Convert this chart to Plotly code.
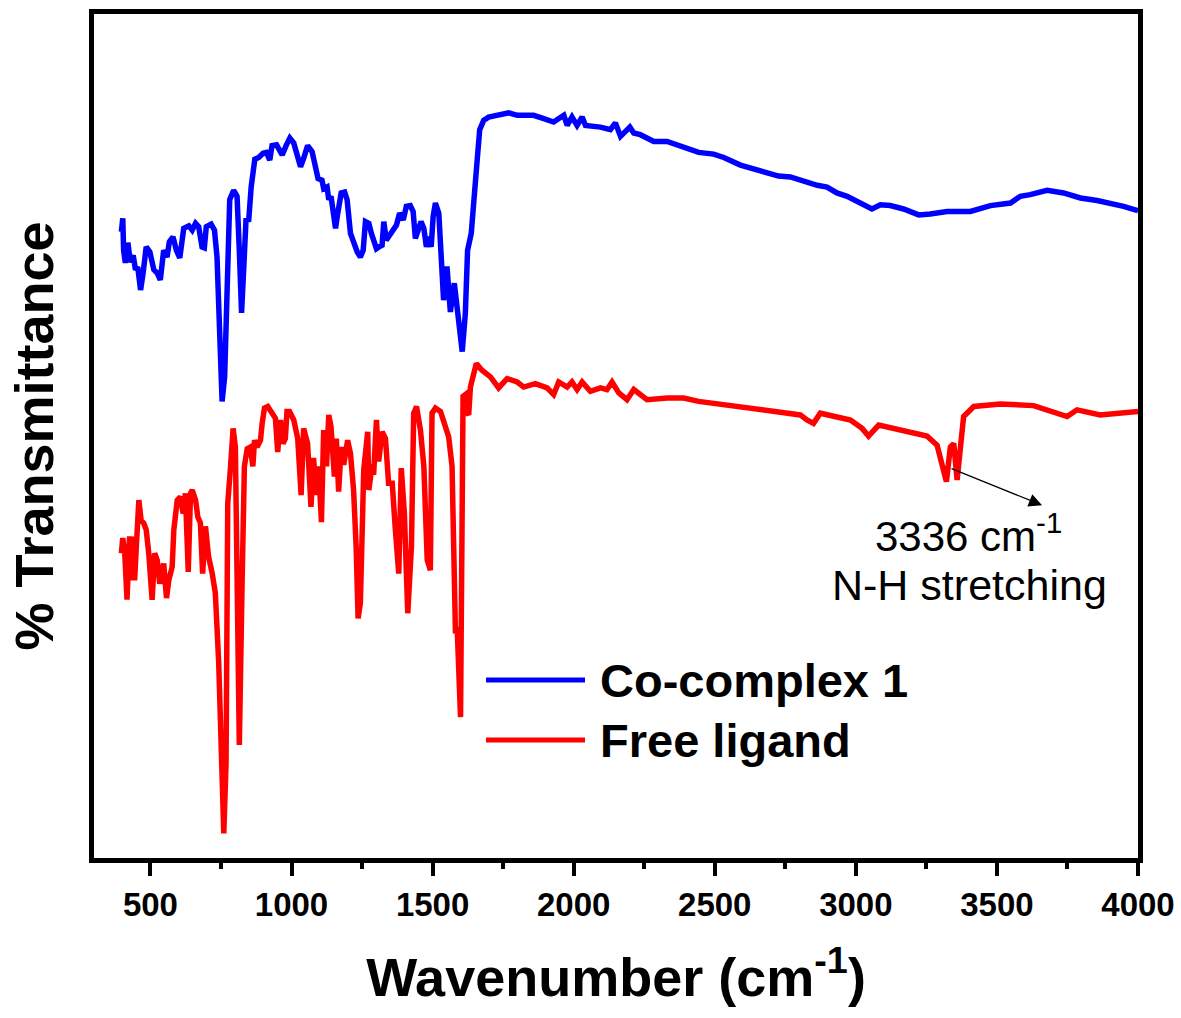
import plotly.graph_objects as go

# ---------------- data (wavenumber in cm^-1, transmittance in arbitrary %T units) -------------
co_wn = [397, 402, 405, 411, 420, 429, 439, 447, 455, 465, 474, 485, 498, 512, 524, 535, 547,
         559, 567, 580, 592, 604, 618, 636, 648, 660, 671, 683, 691, 698, 715, 727, 736, 746,
         754, 763, 772, 781, 795, 807, 815, 823, 831, 839, 848, 857, 870, 884, 899, 911, 923,
         931, 947, 958, 967, 982, 994, 1008, 1020, 1032, 1043, 1057, 1073, 1085, 1094, 1108,
         1114, 1126, 1132, 1140, 1146, 1156, 1164, 1176, 1188, 1197, 1209, 1220, 1233, 1244,
         1254, 1262, 1274, 1283, 1291, 1301, 1310, 1321, 1327, 1336, 1344, 1357, 1372, 1383,
         1396, 1407, 1421, 1431, 1439, 1449, 1459, 1469, 1478, 1486, 1495, 1502, 1510, 1522,
         1530, 1539, 1551, 1563, 1577, 1590, 1605, 1616, 1624, 1637, 1648, 1658, 1667, 1681,
         1699, 1729, 1770, 1800, 1858, 1894, 1929, 1965, 1977, 1994, 2012, 2030, 2042, 2095,
         2130, 2148, 2166, 2199, 2213, 2236, 2284, 2331, 2390, 2443, 2496, 2532, 2591, 2650,
         2697, 2726, 2768, 2815, 2863, 2898, 2933, 2969, 3004, 3040, 3057, 3087, 3122, 3169,
         3223, 3264, 3323, 3406, 3477, 3548, 3583, 3618, 3678, 3736, 3796, 3855, 3902, 3949,
         3990, 4000]
co_t = [74.2, 75.8, 72.0, 70.5, 72.9, 70.6, 71.4, 69.7, 70.0, 67.3, 69.3, 72.4, 71.8, 69.7,
        69.3, 68.5, 72.0, 71.2, 73.0, 73.6, 72.0, 71.1, 74.6, 74.9, 74.4, 75.2, 74.8, 72.4,
        72.3, 74.8, 75.1, 74.4, 71.2, 62.2, 54.1, 57.0, 66.1, 78.0, 79.1, 78.4, 72.0, 64.6,
        70.1, 75.8, 75.4, 79.5, 82.8, 83.0, 83.5, 83.6, 82.7, 84.4, 84.5, 83.9, 83.3, 84.5,
        85.3, 84.7, 83.3, 81.9, 82.9, 84.4, 83.7, 81.7, 80.5, 80.3, 79.3, 79.5, 78.0, 78.4,
        77.2, 74.6, 76.4, 78.8, 78.9, 78.0, 74.0, 72.8, 71.8, 71.2, 72.0, 75.4, 75.2, 74.0,
        73.2, 72.2, 72.4, 72.6, 75.4, 73.2, 73.6, 74.4, 75.0, 76.4, 75.6, 77.2, 77.3, 76.6,
        73.4, 74.4, 75.4, 74.6, 72.4, 73.6, 72.4, 76.0, 77.6, 76.4, 70.9, 66.1, 70.1, 64.7,
        68.1, 64.5, 60.0, 64.5, 72.0, 74.0, 79.9, 82.7, 86.3, 87.4, 87.8, 88.0, 88.3, 88.0,
        88.0, 87.6, 87.2, 88.0, 86.8, 87.8, 86.8, 87.8, 86.8, 86.6, 86.3, 87.1, 85.5, 86.6,
        85.9, 85.7, 84.9, 84.9, 84.3, 83.6, 83.4, 83.0, 82.1, 81.5, 81.1, 80.8, 80.7, 80.2,
        79.7, 79.5, 78.8, 78.4, 77.8, 77.3, 76.9, 77.4, 77.3, 76.9, 76.2, 76.3, 76.6, 76.6,
        77.3, 77.6, 78.4, 78.6, 79.1, 78.8, 78.2, 77.9, 77.6, 77.2, 76.8, 76.7]

lig_wn = [397, 402, 409, 417, 426, 434, 441, 444, 450, 459, 467, 476, 485, 494, 506, 515, 524,
          533, 547, 557, 565, 577, 583, 595, 606, 616, 624, 634, 642, 648, 660, 668, 677, 685,
          695, 706, 719, 730, 742, 752, 760, 768, 774, 784, 793, 801, 807, 815, 825, 833, 843,
          854, 863, 869, 878, 890, 896, 904, 916, 931, 943, 951, 961, 970, 978, 984, 993, 1008,
          1022, 1034, 1043, 1057, 1069, 1078, 1088, 1096, 1106, 1114, 1124, 1132, 1140, 1152,
          1159, 1167, 1176, 1185, 1199, 1209, 1220, 1229, 1236, 1244, 1256, 1270, 1274, 1286,
          1291, 1301, 1309, 1321, 1333, 1344, 1357, 1368, 1380, 1389, 1400, 1412, 1425, 1433,
          1443, 1457, 1469, 1481, 1492, 1498, 1510, 1528, 1539, 1557, 1569, 1581, 1587, 1599,
          1608, 1616, 1624, 1628, 1634, 1655, 1675, 1705, 1734, 1764, 1800, 1823, 1864, 1906,
          1929, 1947, 1977, 1994, 2012, 2030, 2059, 2095, 2118, 2136, 2160, 2189, 2213, 2260,
          2331, 2390, 2443, 2508, 2591, 2685, 2768, 2803, 2827, 2850, 2874, 2981, 3022, 3045,
          3081, 3158, 3252, 3288, 3305, 3321, 3335, 3347, 3359, 3370, 3382, 3418, 3512, 3630,
          3749, 3784, 3866, 4000]
lig_t = [36.1, 37.9, 36.1, 30.6, 38.1, 32.9, 38.1, 32.9, 36.9, 42.4, 40.0, 39.7, 38.9, 36.1,
         30.6, 36.1, 35.3, 32.5, 34.9, 30.8, 32.9, 34.5, 38.9, 42.4, 42.8, 40.8, 43.2, 33.9,
         43.2, 43.6, 42.4, 40.4, 39.7, 33.7, 39.3, 35.7, 33.7, 31.4, 23.1, 11.2, 2.9, 11.2,
         42.0, 46.4, 50.9, 48.7, 32.9, 13.4, 32.9, 46.4, 48.5, 48.7, 46.4, 49.5, 48.7, 49.5,
         51.5, 53.3, 53.5, 52.7, 52.1, 48.1, 51.9, 49.1, 49.7, 52.9, 52.9, 51.9, 49.7, 43.0,
         50.9, 49.1, 41.6, 47.4, 43.0, 46.4, 39.8, 50.7, 46.4, 52.5, 51.1, 45.2, 49.7, 43.4,
         48.7, 46.6, 49.5, 47.9, 43.6, 36.9, 28.4, 30.2, 46.0, 50.5, 43.6, 46.6, 45.4, 51.9,
         47.0, 50.5, 49.7, 44.4, 44.4, 38.9, 33.7, 46.2, 40.8, 29.0, 36.9, 52.7, 53.5, 50.7,
         46.4, 35.3, 34.1, 52.7, 53.3, 52.9, 51.9, 49.9, 46.4, 26.6, 27.4, 16.7, 54.7, 54.9,
         52.7, 52.5, 55.8, 58.6, 57.8, 57.0, 55.7, 56.8, 56.4, 55.8, 56.2, 55.7, 54.9, 56.4,
         55.8, 56.4, 55.5, 56.4, 55.3, 55.7, 55.5, 56.4, 55.1, 54.3, 55.5, 54.3, 54.5, 54.5,
         54.1, 53.8, 53.5, 53.0, 52.7, 52.5, 51.9, 51.5, 52.7, 51.9, 50.9, 50.0, 51.3, 50.7,
         50.0, 48.9, 46.8, 44.6, 48.7, 49.1, 44.8, 48.7, 52.3, 53.5, 53.8, 53.6, 52.3, 53.1,
         52.5, 52.9]

series_names = ["Co-complex 1", "Free ligand"]
series_colors = ["#0000ff", "#ff0000"]

FONT = "Liberation Sans, Arial, Helvetica, sans-serif"

fig = go.Figure()
fig.add_trace(go.Scatter(x=co_wn, y=co_t, mode="lines", name=series_names[0],
                         line=dict(color=series_colors[0], width=5.5), showlegend=False))
fig.add_trace(go.Scatter(x=lig_wn, y=lig_t, mode="lines", name=series_names[1],
                         line=dict(color=series_colors[1], width=5.5), showlegend=False))

# manual legend (long line samples as in the reference)
leg_y = [0.2109, 0.1398]
for name, col, yy in zip(series_names, series_colors, leg_y):
    fig.add_shape(type="line", xref="paper", yref="paper", x0=0.3755, x1=0.4703,
                  y0=yy, y1=yy, line=dict(color=col, width=5))
    fig.add_annotation(xref="paper", yref="paper", x=0.4828, y=yy, text=name,
                       showarrow=False, xanchor="left", yanchor="middle",
                       font=dict(family=FONT, size=47, color="black", weight="bold"))

# peak annotation arrow and label
fig.add_annotation(x=3660, y=41.8, ax=3334, ay=46.2, xref="x", yref="y", axref="x", ayref="y",
                   text="", showarrow=True, arrowhead=2, arrowsize=2.2, arrowwidth=1.2,
                   arrowcolor="black")
fig.add_annotation(x=3399, y=38.5, xref="x", yref="y", text="3336 cm<sup>-1</sup>",
                   showarrow=False, xanchor="center", yanchor="middle",
                   font=dict(family=FONT, size=42, color="black"))
fig.add_annotation(x=3403, y=32.3, xref="x", yref="y", text="N-H stretching",
                   showarrow=False, xanchor="center", yanchor="middle",
                   font=dict(family=FONT, size=43, color="black"))

fig.update_layout(
    width=1181, height=1018,
    margin=dict(l=94, r=43, t=14, b=160, autoexpand=False),
    paper_bgcolor="white", plot_bgcolor="white",
    xaxis=dict(range=[300, 4000], showline=True, linewidth=5, linecolor="black", mirror=True,
               automargin=False,
               ticks="outside", ticklen=13, tickwidth=4, tickcolor="black",
               tick0=0, dtick=500, showgrid=False, zeroline=False,
               tickfont=dict(family=FONT, size=33, color="black", weight="bold"),
               minor=dict(ticks="outside", ticklen=6, tickwidth=4, tickcolor="black",
                          tick0=250, dtick=500, showgrid=False),
               title=dict(text="Wavenumber (cm<sup>-1</sup>)", standoff=38,
                          font=dict(family=FONT, size=54, color="black", weight="bold"))),
    yaxis=dict(range=[0, 100], showline=True, linewidth=5, linecolor="black", mirror=True,
               automargin=False,
               ticks="", showticklabels=False, showgrid=False, zeroline=False,
               title=dict(text="% Transmittance", standoff=20,
                          font=dict(family=FONT, size=54, color="black", weight="bold"))),
)

# remove the default 8px page margin so the figure sits at the window origin
fig.write_html("out.html", config={"displayModeBar": False},
               post_script="document.body.style.margin='0';")
